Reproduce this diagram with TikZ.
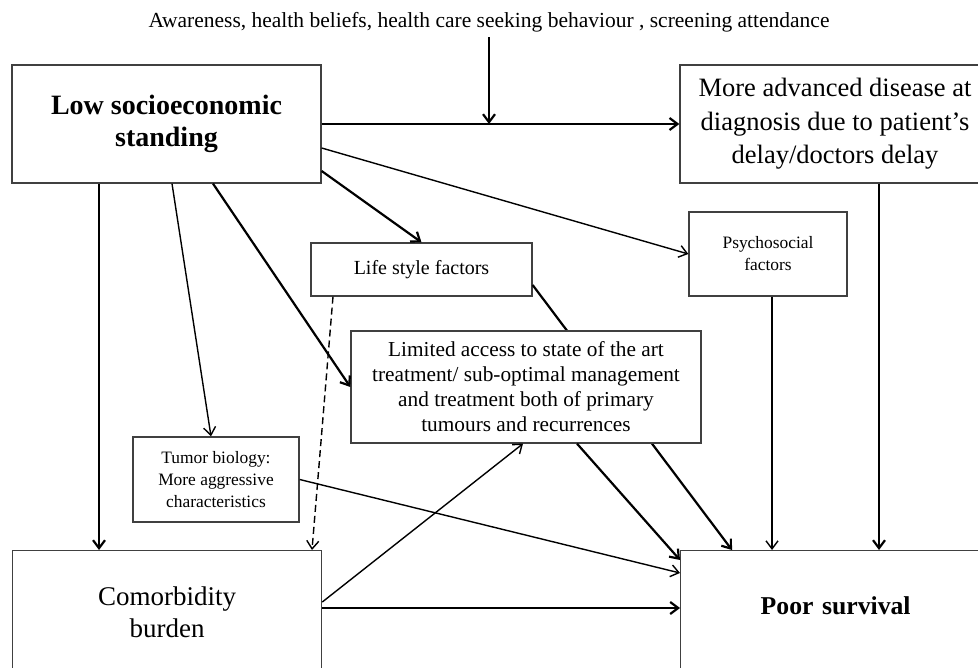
\documentclass[tikz,border=0pt]{standalone}
\usepackage{fontspec}
\setmainfont{Liberation Serif}
\usetikzlibrary{arrows.meta}

\begin{document}
\begin{tikzpicture}[x=1pt, y=-1pt, >={Straight Barb[length=8pt,width=12pt]},
    box/.style={draw=black!75, line width=1.3pt, fill=white, align=center, inner sep=0pt},
    thinarr/.style={->, line width=1.4pt},
    thickarr/.style={->, line width=2.2pt}]
    \useasboundingbox (0,0) rectangle (978,668);
    \clip (0,0) rectangle (978,668);

    \node[font=\fontsize{21.5}{25}\selectfont] (aware) at (489,22)
        {Awareness, health beliefs, health care seeking behaviour , screening attendance};

    \node[box, minimum width=309pt, minimum height=118pt, font=\bfseries\fontsize{28}{32}\selectfont]
        (lss) at (166.5,124) {Low socioeconomic\\standing};
    \node[box, minimum width=310pt, minimum height=118pt, font=\fontsize{26.5}{33.5}\selectfont]
        (adv) at (835,124) {More advanced disease at\\diagnosis due to patient's\\delay/doctors delay};
    \node[box, minimum width=158pt, minimum height=84pt, font=\fontsize{17.4}{22}\selectfont]
        (psy) at (768,254) {Psychosocial\\factors};
    \node[box, minimum width=221pt, minimum height=53pt, font=\fontsize{20}{24}\selectfont]
        (life) at (421.5,269.5) {Life style factors};
    \node[box, minimum width=166pt, minimum height=85pt, font=\fontsize{17.4}{22}\selectfont]
        (tum) at (216,479.5) {Tumor biology:\\More aggressive\\characteristics};
    \node[box, anchor=north west, text width=309pt, text height=55pt, text depth=90pt,
        font=\fontsize{27}{32}\selectfont] (com) at (12,550) {Comorbidity\\burden};
    \node[box, anchor=north west, text width=310pt, text height=64pt, text depth=90pt,
        font=\bfseries\fontsize{25.7}{30}\selectfont] (poor) at (680,550) {Poor survival};

    % life style line runs behind the treatment box
    \draw[thickarr] ([yshift=-15.5pt]life.east) -- ([xshift=52pt]poor.north west);

    \node[box, minimum width=350pt, minimum height=112pt, font=\fontsize{21.3}{25}\selectfont]
        (lim) at (526,387) {Limited access to state of the art\\treatment/ sub-optimal management\\and treatment both of primary\\tumours and recurrences};

    \coordinate (join) at (489,124);
    \draw[thickarr] ([yshift=-2pt]aware.south) -- (join);
    \draw[thickarr] (lss.east) -- (adv.west);
    \draw[thickarr] ([xshift=44pt]adv.south) -- ([xshift=44pt]adv.south |- poor.north);
    \draw[thinarr] ([xshift=4pt]psy.south) -- ([xshift=4pt]psy.south |- poor.north);

    \draw[thinarr] ([yshift=-24pt]lss.east) -- (psy.west);
    \draw[thickarr] ([yshift=-47pt]lss.east) -- (life.north);
    \draw[thickarr] ([xshift=46.5pt]lss.south) -- (lim.west);
    \draw[thinarr] ([xshift=5.5pt]lss.south) -- ([xshift=-5pt]tum.north);
    \draw[thickarr] ([xshift=-67.5pt]lss.south) -- ([xshift=-67.5pt]lss.south |- com.north);
    \draw[thinarr, dash pattern=on 7pt off 4pt] ([xshift=-88.5pt]life.south) -- ([xshift=300pt]com.north west);

    \draw[thickarr] ([xshift=51pt]lim.south) -- ([yshift=-10pt]poor.north west);
    \draw[thinarr] (tum.east) -- ([yshift=-23pt]poor.north west);
    \draw[thinarr] ([yshift=-52pt]com.north east) -- ([xshift=-3pt]lim.south);
    \draw[thickarr] ([yshift=-58pt]com.north east) -- ([yshift=-58pt]poor.north west);
\end{tikzpicture}
\end{document}
